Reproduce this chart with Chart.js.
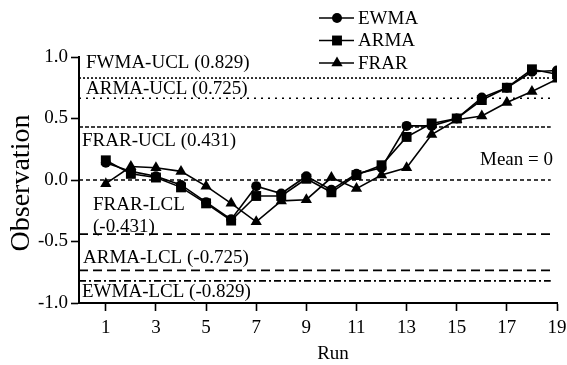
<!DOCTYPE html>
<html>
<head>
<meta charset="utf-8">
<script src="https://cdn.jsdelivr.net/npm/chart.js@4.4.0/dist/chart.umd.min.js"></script>
<style>
  html, body { margin: 0; padding: 0; background: #fff; }
</style>
</head>
<body>
<canvas id="chart" width="567" height="365"></canvas>
<script>
const runs = [1, 2, 3, 4, 5, 6, 7, 8, 9, 10, 11, 12, 13, 14, 15, 16, 17, 18, 19];
const ewma = [0.14, 0.07, 0.03, -0.04, -0.18, -0.32, -0.05, -0.11, 0.03, -0.08, 0.05, 0.10, 0.44, 0.44, 0.50, 0.67, 0.75, 0.88, 0.89];
const arma = [0.16, 0.05, 0.02, -0.06, -0.19, -0.33, -0.13, -0.13, 0.01, -0.10, 0.04, 0.12, 0.35, 0.46, 0.50, 0.65, 0.75, 0.90, 0.86];
const frar = [-0.03, 0.11, 0.10, 0.07, -0.05, -0.19, -0.34, -0.17, -0.16, 0.02, -0.07, 0.04, 0.10, 0.37, 0.49, 0.52, 0.63, 0.72, 0.82];
const xTicks = [1, 3, 5, 7, 9, 11, 13, 15, 17, 19];
const yTicks = [-1.0, -0.5, 0.0, 0.5, 1.0];

// control limits as drawn in the figure
const limitValues = [0.829, 0.665, 0.431, 0, -0.44, -0.735, -0.82];
const limitDash = [[2, 2], [2, 5], [4, 2], [4, 3], [9, 5], [9, 5], [7, 3, 2, 3]];
const xMin = -0.07, xMax = 19, lineEnd = 18.75;

const FONT = "Liberation Serif";

const series = [
  { label: "EWMA", values: ewma, style: "circle", r: 5 },
  { label: "ARMA", values: arma, style: "rect", r: 7 },
  { label: "FRAR", values: frar, style: "triangle", r: 6.5 }
];

const datasets = series.map(s => ({
  label: s.label,
  data: runs.map((r, i) => ({ x: r, y: s.values[i] })),
  borderColor: "#000",
  backgroundColor: "#000",
  borderWidth: 1.6,
  pointStyle: s.style,
  pointRadius: s.r,
  pointBorderWidth: 0,
  pointBackgroundColor: "#000",
  tension: 0
}));

limitValues.forEach((v, i) => {
  datasets.push({
    label: "limit" + i,
    data: [{ x: xMin, y: v }, { x: lineEnd, y: v }],
    borderColor: "#000",
    borderWidth: 1.6,
    borderDash: limitDash[i],
    pointRadius: 0,
    tension: 0
  });
});

const notes = [
  { text: "FWMA-UCL (0.829)", x: 86, y: 63 },
  { text: "ARMA-UCL (0.725)", x: 86, y: 89 },
  { text: "FRAR-UCL (0.431)", x: 82, y: 141 },
  { text: "Mean = 0", x: 480, y: 160 },
  { text: "FRAR-LCL", x: 93, y: 205 },
  { text: "(-0.431)", x: 93, y: 227 },
  { text: "ARMA-LCL (-0.725)", x: 83, y: 258 },
  { text: "EWMA-LCL (-0.829)", x: 82, y: 292 }
];

function marker(ctx, style, x, y, r) {
  ctx.beginPath();
  if (style === "circle") {
    ctx.arc(x, y, r, 0, Math.PI * 2);
  } else if (style === "rect") {
    const h = r * Math.SQRT1_2;
    ctx.rect(x - h, y - h, 2 * h, 2 * h);
  } else {
    ctx.moveTo(x, y - r);
    ctx.lineTo(x + r * Math.sin(2 * Math.PI / 3), y + r / 2);
    ctx.lineTo(x - r * Math.sin(2 * Math.PI / 3), y + r / 2);
    ctx.closePath();
  }
  ctx.fill();
}

const extras = {
  id: "extras",
  afterDraw(chart) {
    const ctx = chart.ctx;
    ctx.save();
    ctx.fillStyle = "#000";
    ctx.strokeStyle = "#000";
    ctx.font = "19px '" + FONT + "'";
    ctx.textBaseline = "middle";
    ctx.textAlign = "left";
    notes.forEach(n => ctx.fillText(n.text, n.x, n.y));

    // legend
    series.forEach((s, i) => {
      const y = 18 + i * 22.5;
      ctx.lineWidth = 1.6;
      ctx.beginPath();
      ctx.moveTo(319, y);
      ctx.lineTo(354, y);
      ctx.stroke();
      marker(ctx, s.style, 337, y, s.r);
      ctx.fillText(s.label, 358, y + 1);
    });

    // axis titles
    ctx.textAlign = "center";
    ctx.fillText("Run", 333, 354);
    ctx.translate(22, 183);
    ctx.rotate(-Math.PI / 2);
    ctx.font = "28px '" + FONT + "'";
    ctx.fillText("Observation", 0, 0);
    ctx.restore();
  }
};

new Chart(document.getElementById("chart"), {
  type: "line",
  data: { datasets },
  plugins: [extras],
  options: {
    responsive: false,
    animation: false,
    devicePixelRatio: 1,
    layout: { padding: { left: 0, right: 10, top: 57, bottom: 0 } },
    plugins: { legend: { display: false }, tooltip: { enabled: false } },
    scales: {
      x: {
        type: "linear",
        min: xMin,
        max: xMax,
        afterBuildTicks: s => { s.ticks = xTicks.map(v => ({ value: v })); },
        afterFit: s => { s.height = 62; s.paddingLeft = 0; s.paddingRight = 0; },
        grid: { drawOnChartArea: false, drawTicks: true, tickLength: 8, tickColor: "#000", tickWidth: 1.6 },
        border: { display: true, color: "#000", width: 2 },
        ticks: { color: "#000", font: { family: FONT, size: 19 }, padding: 6, maxRotation: 0 }
      },
      y: {
        min: -1,
        max: 1,
        afterBuildTicks: s => { s.ticks = yTicks.map(v => ({ value: v })); },
        afterFit: s => { s.width = 79; s.paddingTop = 0; s.paddingBottom = 0; },
        grid: { drawOnChartArea: false, drawTicks: true, tickLength: 8, tickColor: "#000", tickWidth: 1.6 },
        border: { display: true, color: "#000", width: 2 },
        ticks: { color: "#000", font: { family: FONT, size: 19 }, padding: 3, callback: v => v.toFixed(1) }
      }
    }
  }
});
</script>
</body>
</html>
